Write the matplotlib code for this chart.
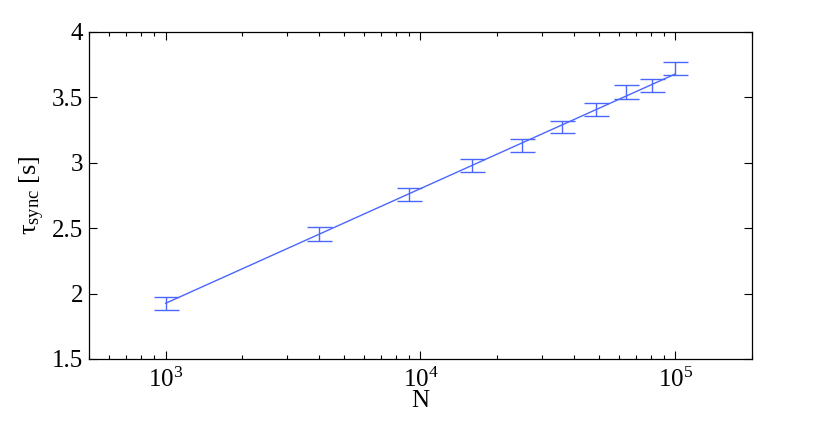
import matplotlib
matplotlib.use('Agg')
import matplotlib.pyplot as plt
import numpy as np

# measured sync times vs population size
N = [1000, 4000, 9000, 16000, 25000, 36000, 49000, 64000, 81000, 100000]
tau = [1.926, 2.456, 2.756, 2.978, 3.130, 3.274, 3.407, 3.539, 3.592, 3.719]
tau_err = [0.051, 0.051, 0.050, 0.051, 0.050, 0.048, 0.047, 0.054, 0.048, 0.050]

# log fit drawn as a straight line
fit_N = [1000, 100000]
fit_tau = [1.926, 3.679]

plt.rcParams['font.family'] = ['Liberation Serif', 'DejaVu Serif']
plt.rcParams['mathtext.fontset'] = 'custom'
plt.rcParams['mathtext.rm'] = 'Liberation Serif'
plt.rcParams['mathtext.it'] = 'Liberation Serif:italic'
plt.rcParams['mathtext.bf'] = 'Liberation Serif:bold'

fig = plt.figure(figsize=(8.3, 4.38), dpi=100)
ax = fig.add_axes([0.1072, 0.1804, 0.7988, 0.7466])

col = '#4a66ff'
ax.errorbar(N, tau, yerr=tau_err, fmt='none', ecolor=col, elinewidth=1.0,
            capsize=9, capthick=1.0)
ax.plot(fit_N, fit_tau, color=col, lw=1.0)

ax.set_xscale('log')
ax.set_xlim(500, 2e5)
ax.set_ylim(1.5, 4)
ax.set_yticks([1.5, 2, 2.5, 3, 3.5, 4])
ax.set_yticklabels(['1.5', '2', '2.5', '3', '3.5', '4'])

ax.tick_params(which='both', direction='in', top=True, right=True, labelsize=18)
ax.tick_params(which='major', length=6, width=0.8)
ax.tick_params(which='minor', length=3, width=0.8)
ax.tick_params(axis='x', pad=6)
ax.tick_params(axis='y', pad=4)
for s in ax.spines.values():
    s.set_linewidth(0.9)

ax.set_xlabel('N', fontsize=18, labelpad=-1)
ax.set_ylabel('τ$_{\\mathrm{sync}}$ [s]', fontsize=19, labelpad=4)

fig.savefig('out.png', dpi=100)
